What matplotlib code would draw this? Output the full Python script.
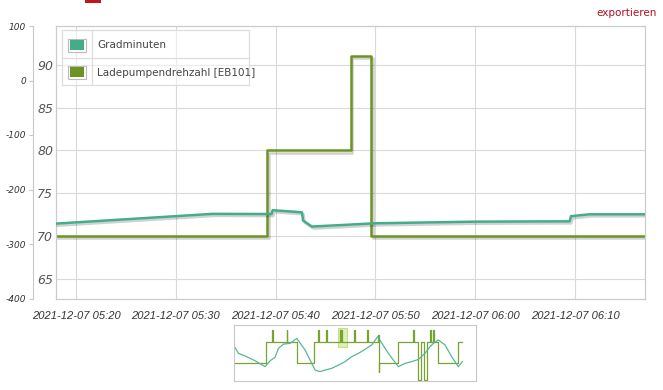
import pandas as pd
import matplotlib.pyplot as plt
import matplotlib.dates as mdates
import matplotlib.patheffects as pe
from matplotlib.patches import Rectangle
from matplotlib.lines import Line2D

plt.rcParams['axes.unicode_minus'] = False

# series of the visible window (2021-12-07)
day = '2021-12-07 '
grad_times = ['05:18:00', '05:33:42', '05:39:36', '05:39:42', '05:42:38', '05:42:45',
              '05:43:38', '05:50:00', '06:00:00', '06:09:27', '06:09:35', '06:11:27', '06:17:00']
grad_values = [-262.6, -244.7, -245.0, -238.0, -241.8, -257.0,
               -268.0, -262.0, -259.0, -258.4, -249.0, -245.5, -245.5]

pump_times = ['05:18:00', '05:39:09', '05:47:31', '05:49:35', '06:17:00']
pump_values = [70, 80, 91, 70, 70]

grad_ticks = [100, 0, -100, -200, -300, -400]
pump_ticks = [65, 70, 75, 80, 85, 90]

# navigator (whole day, hours after 2021-12-06 18:30)
nav_start = pd.Timestamp('2021-12-06 18:30')
nav_grad_hours = [0, 0.42, 1.12, 2.16, 3.21, 3.73, 4.25, 4.6, 5.13, 5.82, 6.52, 7.39, 8.44,
                  8.96, 9.48, 10.18, 10.88, 11.58, 12.27, 12.97, 13.67, 14.37, 14.99, 16.11,
                  17.15, 17.85, 18.55, 19.25, 19.94, 20.47, 20.82, 21.34, 22.04, 22.73, 23.43, 23.85]
nav_grad_values = [77.7, 74.6, 73.4, 71.2, 68.5, 71.2, 72.8, 76.9, 78.9, 79.2, 81.5, 76.2, 66.9,
                   66.2, 66.9, 67.7, 69.2, 70.8, 73.1, 74.6, 76.5, 78.5, 82.3, 74.6,
                   68.5, 70.0, 70.8, 71.8, 74.6, 77.7, 79.2, 80.8, 78.5, 73.1, 68.5, 70.8]
nav_pump_hours = [0, 3.28, 3.95, 4.05, 5.45, 5.55, 6.52, 8.37, 8.72, 8.82, 9.55, 9.65,
                  11.05, 11.12, 11.2, 11.27, 12.55, 12.65, 13.84, 13.94, 15.06, 15.1, 15.15,
                  17.15, 18.72, 18.82, 19.18, 19.53, 19.87, 20.12, 20.47, 20.57, 20.82, 20.92,
                  21.34, 23.43, 23.85]
nav_pump_values = [70, 80, 85.5, 80, 85.5, 80, 70, 80, 85.5, 80, 85.5, 80,
                   85.5, 80, 85.5, 80, 85.5, 80, 85.5, 80, 83, 66, 70,
                   80, 85.5, 80, 62.3, 80, 62.3, 80, 85.5, 80, 85.5, 80,
                   70, 80, 80]

TEAL = '#42ad88'
GREEN = '#6b9423'
GRID = '#d9d9d9'
W, H = 663, 390


def fx(px):
    return px / W


def fy(py):
    return 1 - py / H


grad_t = pd.to_datetime([day + t for t in grad_times])
pump_t = pd.to_datetime([day + t for t in pump_times])

fig = plt.figure(figsize=(6.63, 3.9), dpi=100)
ax = fig.add_axes([fx(56), fy(298.5), fx(645) - fx(56), fy(26) - fy(298.5)])
ax2 = ax.twinx()

shadow = [pe.SimpleLineShadow(offset=(1.2, -1.5), shadow_color='k', alpha=0.18), pe.Normal()]

ax.plot(pump_t, pump_values, drawstyle='steps-post', color=GREEN, lw=1.8, path_effects=shadow)
ax2.plot(grad_t, grad_values, color=TEAL, lw=1.8, path_effects=shadow)

ax.set_xlim(pd.Timestamp(day + '05:18:00'), pd.Timestamp(day + '06:17:00'))
ax.set_ylim(62.7, 94.55)
ax2.set_ylim(-400, 100)

ax.set_yticks(pump_ticks)
ax.xaxis.set_major_locator(mdates.MinuteLocator(byminute=range(0, 60, 10)))
ax.xaxis.set_major_formatter(mdates.DateFormatter('%Y-%m-%d %H:%M'))
ax.grid(True, color=GRID, lw=0.8)
ax.tick_params(axis='both', length=0, colors='#444')
ax.tick_params(axis='x', pad=9)
ax.tick_params(axis='y', pad=2)
for lab in ax.get_xticklabels():
    lab.set_fontfamily(['Liberation Sans', 'DejaVu Sans'])
    lab.set_fontsize(8)
    lab.set_fontstyle('italic')
    lab.set_color('#333')
for lab in ax.get_yticklabels():
    lab.set_fontsize(9)
    lab.set_fontstyle('italic')
    lab.set_color('#555')
for s in ax.spines.values():
    s.set_color('#cccccc')
    s.set_linewidth(0.9)

# Gradminuten axis on the far left
ax2.yaxis.set_ticks_position('left')
ax2.set_yticks(grad_ticks)
ax2.spines['right'].set_visible(False)
ax2.spines['top'].set_visible(False)
ax2.spines['bottom'].set_visible(False)
ax2.spines['left'].set_visible(True)
ax2.spines['left'].set_position(('outward', 16.5))
ax2.spines['left'].set_color('#c8c8c8')
ax2.tick_params(axis='y', length=3, color='#c8c8c8', pad=2, labelsize=6.5, labelcolor='#333')
for lab in ax2.get_yticklabels():
    lab.set_fontstyle('italic')

# legend box
fig.add_artist(Rectangle((fx(62), fy(85)), fx(249) - fx(62), fy(30) - fy(85),
                         transform=fig.transFigure, facecolor='white', alpha=0.5,
                         edgecolor='none'))
fig.add_artist(Rectangle((fx(62), fy(85)), fx(249) - fx(62), fy(30) - fy(85),
                         transform=fig.transFigure, fill=False, edgecolor='#dddddd', lw=0.9))
fig.add_artist(Line2D([fx(62), fx(249)], [fy(58), fy(58)], transform=fig.transFigure,
                      color='#dddddd', lw=0.9))
fig.add_artist(Line2D([fx(91.5), fx(91.5)], [fy(30), fy(85)], transform=fig.transFigure,
                      color='#dddddd', lw=0.9))
legend_names = ['Gradminuten', 'Ladepumpendrehzahl [EB101]']
for i, (name, col) in enumerate(zip(legend_names, [TEAL, GREEN])):
    top = 39 + i * 27
    fig.add_artist(Rectangle((fx(68), fy(top + 12.5)), fx(17.5), fy(0) - fy(12.5),
                             transform=fig.transFigure, facecolor='white',
                             edgecolor='#bbbbbb', lw=0.8))
    fig.add_artist(Rectangle((fx(69.5), fy(top + 11)), fx(14.5), fy(0) - fy(9.5),
                             transform=fig.transFigure, facecolor=col, edgecolor='none'))
    fig.text(fx(97), fy(top + 6.5), name, fontsize=7.5, color='#444', va='center')

fig.text(fx(657), fy(13), 'exportieren', fontsize=7.5, color='#b01020', ha='right', va='center')
fig.add_artist(Rectangle((fx(85), fy(2.5)), fx(16), fy(0) - fy(2.5),
                         transform=fig.transFigure, facecolor='#c0141e', edgecolor='none'))

# navigator
nav = fig.add_axes([fx(233.5), fy(380.7), fx(475.7) - fx(233.5), fy(325) - fy(380.7)])
nav_g = nav_start + pd.to_timedelta(nav_grad_hours, unit='h')
nav_p = nav_start + pd.to_timedelta(nav_pump_hours, unit='h')
nav.plot(nav_p, nav_pump_values, drawstyle='steps-post', color='#78a232', lw=0.9)
nav.plot(nav_g, nav_grad_values, color='#55b896', lw=0.9)
nav.set_xlim(nav_start - pd.Timedelta(minutes=6), nav_start + pd.Timedelta(hours=25.25))
nav.set_ylim(62.0, 87.7)
win0 = pd.Timestamp(day + '05:18:00')
win1 = pd.Timestamp(day + '06:17:00')
nav.add_patch(Rectangle((mdates.date2num(win0), 0.6), mdates.date2num(win1) - mdates.date2num(win0),
                        0.35, transform=nav.get_xaxis_transform(), facecolor='#c8e68a',
                        alpha=0.6, edgecolor='#a8d050', lw=0.8))
nav.set_xticks([])
nav.set_yticks([])
for s in nav.spines.values():
    s.set_color('#c8c8c8')

fig.savefig('out.png', dpi=100)
